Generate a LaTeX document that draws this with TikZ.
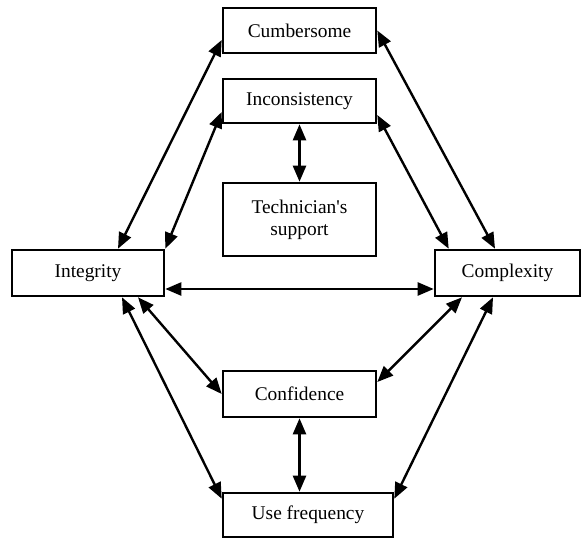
\documentclass[tikz,border=0pt]{standalone}
\usepackage{fontspec}
\setmainfont{Liberation Serif}
\usetikzlibrary{arrows.meta}
\begin{document}
\begin{tikzpicture}[x=0.5pt, y=-0.5pt,
	box/.style={draw, rectangle, line width=1.3pt, inner sep=0pt, align=center, font=\fontsize{9.7}{11}\selectfont},
	link/.style={{Triangle[length=8pt,width=6.5pt]}-{Triangle[length=8pt,width=6.5pt]}, line width=1.2pt}]
	\useasboundingbox (0,0) rectangle (582,539);

					\node[box, minimum width=76.5pt, minimum height=22.5pt] (cumb) at (299.5,30.5) {Cumbersome};
					\node[box, minimum width=76.5pt, minimum height=22pt] (incon) at (299.5,101) {Inconsistency};
					\node[box, minimum width=76.5pt, minimum height=36.5pt] (tech) at (299.5,219.5) {Technician\textquotesingle s\\support};

					\node[box, minimum width=76pt, minimum height=23pt] (integ) at (88,273) {Integrity};
					\node[box, minimum width=72.5pt, minimum height=23pt] (compl) at (507.5,273) {Complexity};

					\node[box, minimum width=76.5pt, minimum height=23pt] (conf) at (299.5,394) {Confidence};
					\node[box, minimum width=85pt, minimum height=22pt] (usef) at (308,515) {Use frequency};

					% upper links
					\draw[link] ([xshift=15pt]integ.north) to ([yshift=-4.75pt]cumb.west);
					\draw[link] (integ.north east) to ([yshift=-5.5pt]incon.west);
					\draw[link] (cumb.east) to ([xshift=-6.25pt]compl.north);
					\draw[link] ([yshift=-7pt]incon.east) to ([xshift=7.5pt]compl.north west);
					\draw[link] (incon.south) to (tech.north);

					\draw[link] ([yshift=-8pt]integ.east) to ([yshift=-8pt]compl.west);

					% lower links
					\draw[link] ([xshift=25pt]integ.south) to (conf.west);
					\draw[link] ([xshift=17pt]integ.south) to ([yshift=-3.5pt]usef.north west);
					\draw[link] ([xshift=-22.75pt]compl.south) to ([yshift=6pt]conf.east);
					\draw[link] ([xshift=-7.25pt]compl.south) to ([yshift=-3.5pt]usef.north east);
					\draw[link] (conf.south) to (conf.south |- usef.north);
\end{tikzpicture}
\end{document}
